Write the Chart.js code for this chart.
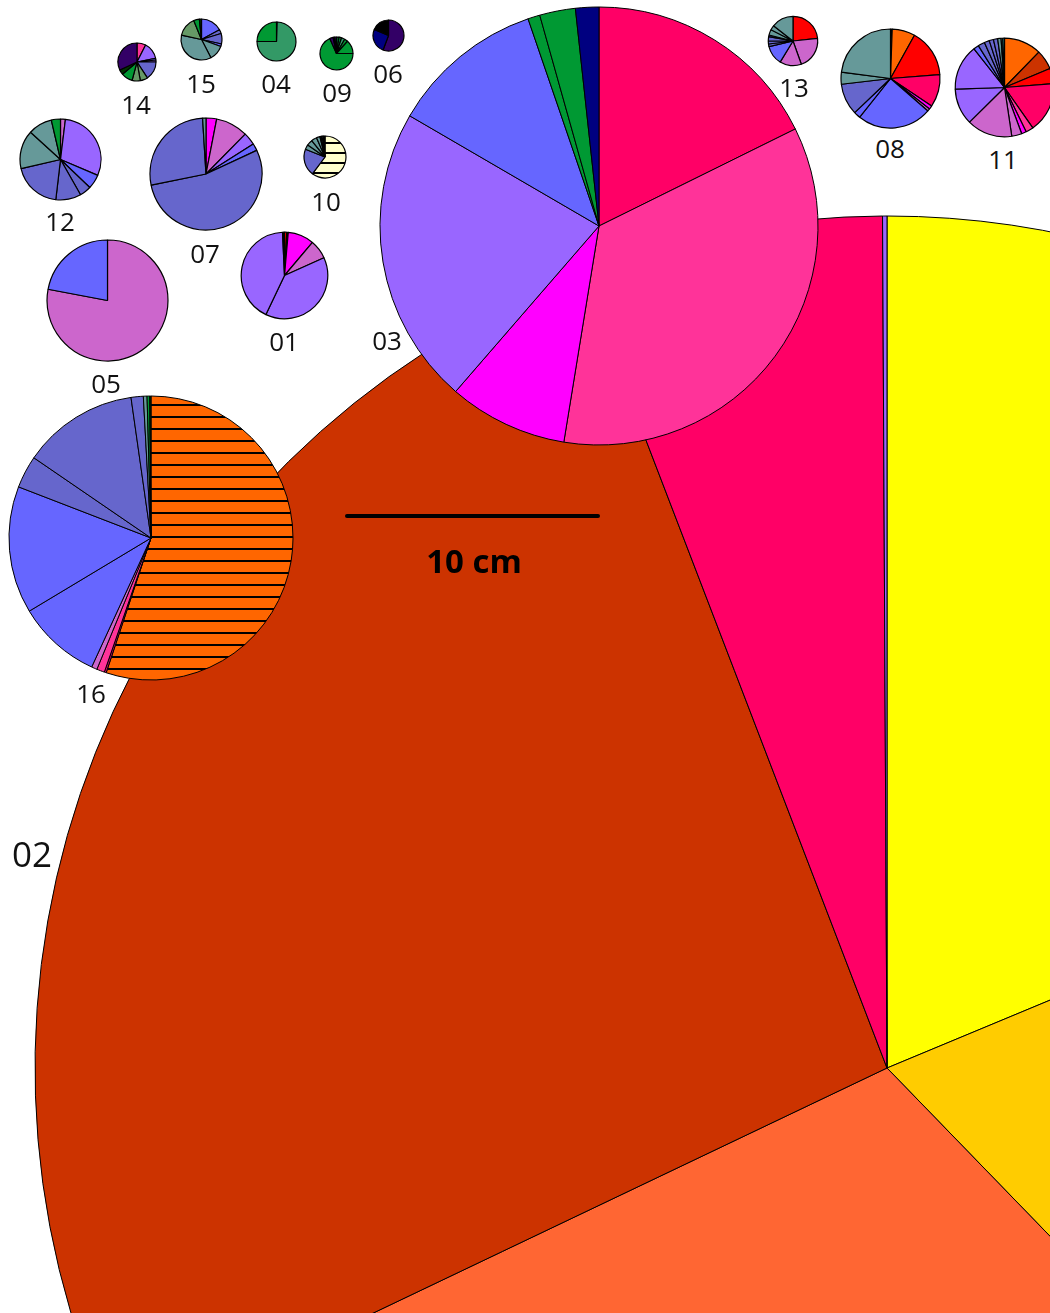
<!DOCTYPE html>
<html>
<head>
<meta charset="utf-8">
<script src="https://cdn.jsdelivr.net/npm/chart.js@4.4.1/dist/chart.umd.min.js"></script>
<style>
html, body { margin: 0; padding: 0; background: #fff; overflow: hidden; }
#stage { position: relative; width: 1050px; height: 1313px; overflow: hidden; }
#stage canvas { position: absolute; }
.lbl { position: absolute; transform: translate(-50%, -50%); font-family: 'Open Sans', sans-serif; font-size: 26px; line-height: 1; color: #111; white-space: nowrap; }
#bar { position: absolute; left: 345px; top: 514px; width: 255px; height: 4px; background: #000; border-radius: 2px; }
#barText { position: absolute; left: 474px; top: 560px; transform: translate(-50%, -50%); font-family: 'Open Sans', sans-serif; font-weight: bold; font-size: 33px; line-height: 1; color: #000; }
</style>
</head>
<body>
<div id="stage">
  <div id="bar"></div>
</div>
<script>
// pie names, drawing order (02 is at the bottom)
const pieNames = ['02', '16', '03', '01', '04', '05', '06', '07', '08', '09', '10', '11', '12', '13', '14', '15']

// slice sizes (degrees of the circle) and slice kinds, one pair per pie
const values01 = [3, 2, 35.2, 25.5, 139.7, 152, 2.6]
const kinds01 = ['red', 'black', 'magenta', 'orchid', 'violet', 'violet', 'black']

const values02 = [67.4, 68.5, 108.6, 94.5, 20.7, 0.3]
const kinds02 = ['yellow', 'gold', 'coral', 'rust', 'rose', 'violet']

const values03 = [63.7, 125.55, 31.65, 79.3, 40.9, 3.2, 9.5, 6.2]
const kinds03 = ['rose', 'pink', 'magenta', 'violet', 'blue', 'green', 'green', 'navy']

const values04 = [2, 268, 90]
const kinds04 = ['forest', 'sea', 'green']

const values05 = [280.7, 79.3]
const kinds05 = ['orchid', 'blue']

const values06 = [200.6, 92.3, 67.1]
const kinds06 = ['plum', 'navy', 'black']

const values07 = [11, 33.5, 13.1, 7.4, 193.6, 97.9, 3.5]
const kinds07 = ['magenta', 'orchid', 'violet', 'blue', 'slate', 'slate', 'teal']

const values08 = [2, 27, 56.4, 38.5, 4.1, 3, 87.5, 7.9, 36.9, 14.1, 82.6]
const kinds08 = ['black', 'orange', 'red', 'rose', 'magenta', 'orchid', 'blue', 'blue', 'slate', 'teal', 'teal']

const values09 = [9, 9, 12, 12, 48, 246, 12, 6, 6]
const kinds09 = ['forest', 'green', 'sea', 'green', 'green', 'green', 'plum', 'black', 'plum']

const values10 = [217, 74.6, 13.4, 15.8, 15.5, 9.7, 6, 4, 4]
const kinds10 = ['creamHatch', 'slate', 'teal', 'teal', 'teal', 'teal', 'black', 'teal', 'black']

const values11 = [44.2, 23.2, 18, 59.6, 9, 5.6, 11.9, 53.8, 42.7, 53.8, 6.2, 8, 6, 5, 5, 4, 2, 2]
const kinds11 = ['orange', 'rust', 'red', 'rose', 'pink', 'magenta', 'orchid', 'orchid', 'violet', 'violet', 'blue', 'slate', 'slate', 'slate', 'slate', 'teal', 'teal', 'cyan']

const values12 = [7, 106, 20.7, 16.7, 36.3, 70.3, 55.3, 34.6, 13.1]
const kinds12 = ['orchid', 'violet', 'blue', 'slate', 'slate', 'slate', 'teal', 'teal', 'green']

const values13 = [83.7, 76.6, 51.1, 45.3, 6.3, 7, 10, 4, 13, 11, 52]
const kinds13 = ['red', 'orchid', 'orchid', 'blue', 'slate', 'slate', 'slate', 'indigo', 'teal', 'teal', 'teal']

const values14 = [27, 51.7, 5.3, 6, 57, 23, 25, 35, 15, 115]
const kinds14 = ['pink', 'violet', 'blue', 'violet', 'slate', 'sage', 'sage', 'green', 'darkgreen', 'plum']

const values15 = [61.6, 11.4, 29.6, 7.4, 42.6, 129.9, 55.3, 16.2, 6]
const kinds15 = ['blue', 'slate', 'slate', 'blue', 'teal', 'teal', 'sage', 'green', 'darkgreen']

const values16 = [198.4, 0.8, 3.2, 2.3, 34.3, 52.1, 13.3, 47.5, 5.0, 1.5, 1.1, 0.5]
const kinds16 = ['orangeHatch', 'crimson', 'pink', 'orchid', 'blue', 'blue', 'slate', 'slate', 'slate', 'teal', 'green', 'darkgreen']

const pieValues = { '01': values01, '02': values02, '03': values03, '04': values04, '05': values05, '06': values06,
    '07': values07, '08': values08, '09': values09, '10': values10, '11': values11, '12': values12,
    '13': values13, '14': values14, '15': values15, '16': values16 }
const pieKinds = { '01': kinds01, '02': kinds02, '03': kinds03, '04': kinds04, '05': kinds05, '06': kinds06,
    '07': kinds07, '08': kinds08, '09': kinds09, '10': kinds10, '11': kinds11, '12': kinds12,
    '13': kinds13, '14': kinds14, '15': kinds15, '16': kinds16 }

// where each pie sits: centre x, centre y, radius; then label centre
const pieBox = {
    '01': [284.3, 275.7, 43.3], '02': [887, 1068, 852], '03': [598.7, 226, 219], '04': [276.5, 41, 19.5],
    '05': [107.3, 300.7, 60.5], '06': [388.3, 35.7, 15.5], '07': [206, 174, 56], '08': [890, 78.3, 49.5],
    '09': [336, 53.3, 16.5], '10': [325, 157.3, 21], '11': [1004.3, 87.7, 49.3], '12': [60, 159.3, 40.5],
    '13': [793.3, 41, 24.7], '14': [136.5, 62, 19], '15': [201, 39.5, 20.5], '16': [151, 538, 142]
}
const labelPos = {
    '01': [284, 341], '02': [32, 853], '03': [387, 340], '04': [276, 83], '05': [106, 383], '06': [388, 73],
    '07': [205, 253], '08': [890, 148], '09': [337, 92], '10': [326, 201], '11': [1003, 159], '12': [60, 221],
    '13': [794, 87], '14': [136, 104], '15': [201, 83], '16': [91, 693]
}

const palette = {
    orange: '#FF6600', rust: '#CC3300', red: '#FF0000', rose: '#FF0066', pink: '#FF3399', crimson: '#CC0066',
    magenta: '#FF00FF', orchid: '#CC66CC', violet: '#9966FF', blue: '#6666FF', slate: '#6666CC', indigo: '#333399',
    teal: '#669999', cyan: '#339999', sage: '#669966', sea: '#339966', green: '#009933', forest: '#006633',
    darkgreen: '#003300', plum: '#330066', navy: '#000080', black: '#000000', yellow: '#FFFF00', gold: '#FFCC00',
    coral: '#FF6633', cream: '#FFFFCC'
}

const hatch = (fill, gap) => {
    const c = document.createElement('canvas')
    c.width = 8
    c.height = gap
    const g = c.getContext('2d')
    g.fillStyle = fill
    g.fillRect(0, 0, 8, gap)
    g.fillStyle = '#000'
    g.fillRect(0, gap - 2, 8, 2)
    return g.createPattern(c, 'repeat')
}

const stage = document.querySelector('#stage')
const bar = document.querySelector('#bar')

pieNames.forEach(name => {
    const [cx, cy, r] = pieBox[name]
    const size = Math.ceil(2 * r + 4)
    const canvas = document.createElement('canvas')
    canvas.width = size
    canvas.height = size
    canvas.style.left = (cx - size / 2) + 'px'
    canvas.style.top = (cy - size / 2) + 'px'
    stage.insertBefore(canvas, bar)
    if (name === '02') stage.insertBefore(canvas, stage.firstChild)

    const gap = name === '10' ? 10 : 12
    const colors = pieKinds[name].map(k => {
        if (k === 'orangeHatch') return hatch(palette.orange, gap)
        if (k === 'creamHatch') return hatch(palette.cream, gap)
        return palette[k]
    })

    new Chart(canvas.getContext('2d'), {
        type: 'pie',
        data: {
            labels: pieKinds[name],
            datasets: [{
                data: pieValues[name],
                backgroundColor: colors,
                borderColor: '#000',
                borderWidth: r < 70 ? 1.2 : 1,
                radius: r
            }]
        },
        options: {
            responsive: false,
            animation: false,
            events: [],
            layout: { padding: 0 },
            plugins: { legend: { display: false }, tooltip: { enabled: false } }
        }
    })
})

// move the scale bar above the big pie
stage.appendChild(bar)
const barText = document.createElement('div')
barText.id = 'barText'
barText.textContent = '10 cm'
stage.appendChild(barText)

pieNames.forEach(name => {
    const d = document.createElement('div')
    d.className = 'lbl'
    d.textContent = name
    d.style.left = labelPos[name][0] + 'px'
    d.style.top = labelPos[name][1] + 'px'
    if (name === '02') d.style.fontSize = '35px'
    stage.appendChild(d)
})
</script>
</body>
</html>
